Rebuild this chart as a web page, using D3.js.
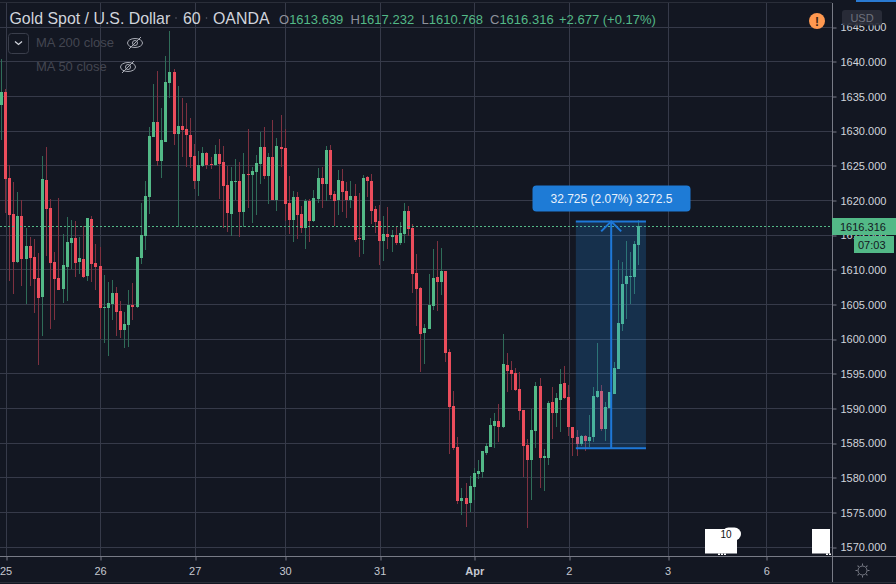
<!DOCTYPE html>
<html>
<head>
<meta charset="utf-8">
<script src="https://cdn.jsdelivr.net/npm/d3@7"></script>
<style>
  html, body { margin: 0; padding: 0; background: #131722; }
  svg { display: block; }
  text { font-family: "Liberation Sans", sans-serif; }
</style>
</head>
<body>
<div id="chart"></div>
<script>
// hourly candles
const opens = [
  1633.82,1635.64,1623.24,1618.05,1611.17,1617.76,1611.56,1613.43,1611.84,1608.82,
  1606.08,1622.95,1618.91,1611.12,1608.82,1607.23,1610.40,1613.86,1614.59,1611.12,
  1611.56,1609.10,1617.33,1610.98,1610.55,1604.49,1604.49,1605.07,1606.65,1604.06,
  1601.32,1602.04,1604.92,1604.63,1611.70,1614.87,1620.50,1629.15,1631.32,1625.69,
  1628.43,1636.94,1638.53,1629.59,1630.74,1630.31,1629.44,1626.41,1622.81,1624.97,
  1626.85,1625.26,1625.12,1626.70,1625.55,1622.24,1618.05,1622.67,1622.81,1618.34,
  1623.82,1623.68,1624.11,1625.27,1627.72,1623.54,1626.28,1620.07,1627.72,1627.57,
  1619.64,1617.19,1620.51,1618.05,1616.03,1619.93,1617.04,1620.22,1623.25,1622.38,
  1627.29,1620.94,1620.07,1622.81,1621.37,1620.07,1620.65,1614.59,1614.30,1623.39,
  1622.81,1618.78,1617.04,1614.16,1615.17,1614.74,1615.03,1613.87,1615.17,1618.49,
  1616.04,1609.55,1607.39,1600.90,1601.47,1604.79,1608.97,1608.25,1609.84,1598.16,
  1590.37,1584.45,1576.66,1577.10,1576.38,1578.68,1580.56,1580.85,1583.59,1584.45,
  1587.48,1588.20,1587.34,1596.28,1595.56,1595.13,1592.82,1589.79,1584.74,1582.58,
  1586.76,1593.25,1582.87,1582.87,1590.94,1589.36,1591.23,1593.68,1591.66,1587.34,
  1585.90,1584.88,1586.03,1585.31,1585.89,1591.66,1592.52,1587.04,1590.07,1592.09,
  1595.70,1602.19,1607.96,1608.97,1608.97,1613.639
];
const highs = [
  1640.36,1636.08,1625.07,1622.66,1621.17,1620.07,1616.03,1614.73,1614.44,1612.42,
  1626.41,1627.71,1620.21,1612.57,1620.36,1615.16,1617.61,1617.18,1617.04,1614.73,
  1616.32,1617.47,1617.76,1613.72,1613.29,1609.25,1608.24,1608.53,1607.52,1605.50,
  1603.91,1607.08,1608.09,1611.84,1619.63,1622.81,1630.60,1636.80,1638.67,1633.34,
  1640.84,1644.44,1638.96,1636.51,1634.78,1634.06,1631.89,1628.14,1627.13,1627.71,
  1626.99,1626.27,1628.00,1628.87,1627.86,1624.98,1624.83,1625.99,1625.55,1626.85,
  1630.31,1624.83,1626.56,1629.88,1630.60,1626.85,1631.61,1629.02,1632.33,1630.31,
  1623.54,1621.37,1621.23,1619.21,1620.22,1620.22,1621.52,1624.69,1624.83,1627.86,
  1628.01,1621.37,1624.40,1624.54,1622.67,1622.81,1622.38,1621.08,1623.68,1623.54,
  1623.82,1619.21,1619.35,1617.77,1619.06,1615.75,1616.18,1616.90,1619.64,1619.21,
  1616.62,1612.29,1607.53,1602.19,1609.41,1613.01,1614.17,1613.16,1609.84,1598.59,
  1592.53,1585.90,1578.54,1579.26,1580.27,1581.42,1582.58,1583.88,1585.03,1588.64,
  1589.36,1590.66,1600.75,1598.01,1596.86,1595.85,1595.27,1589.79,1585.61,1589.93,
  1593.83,1594.41,1584.16,1591.09,1593.11,1592.24,1595.70,1596.14,1593.40,1587.34,
  1586.90,1586.18,1586.18,1589.06,1593.10,1599.45,1593.39,1590.94,1592.38,1596.71,
  1611.42,1611.13,1614.16,1612.57,1614.16,1617.232
];
const lows = [
  1628.72,1618.14,1608.38,1606.56,1610.93,1607.66,1605.02,1607.66,1603.82,1596.32,
  1600.45,1611.99,1601.46,1602.76,1607.08,1605.21,1605.50,1610.11,1608.96,1609.39,
  1608.82,1608.38,1608.24,1607.08,1600.02,1599.44,1597.56,1602.76,1600.45,1600.16,
  1598.72,1598.86,1602.76,1604.49,1610.84,1612.85,1618.05,1629.10,1624.97,1623.24,
  1628.43,1634.73,1628.00,1616.17,1626.27,1624.83,1624.68,1621.65,1620.64,1624.87,
  1624.54,1624.54,1624.97,1620.21,1616.03,1615.46,1614.88,1620.07,1614.74,1616.18,
  1618.92,1616.76,1617.91,1622.38,1623.10,1619.50,1620.07,1618.49,1624.83,1617.04,
  1615.17,1614.02,1614.45,1615.31,1613.01,1614.02,1616.90,1619.64,1618.92,1619.93,
  1620.22,1616.32,1617.91,1618.34,1617.48,1618.92,1614.02,1611.85,1612.28,1620.51,
  1616.61,1615.31,1610.70,1611.27,1613.01,1612.57,1613.58,1613.58,1613.87,1614.88,
  1606.67,1601.91,1595.27,1596.42,1601.47,1604.21,1604.07,1606.38,1596.71,1583.44,
  1584.02,1576.23,1574.64,1572.91,1575.08,1576.81,1579.84,1579.98,1583.30,1584.45,
  1584.31,1585.17,1587.19,1592.39,1592.67,1592.53,1588.35,1580.13,1572.77,1576.81,
  1584.31,1578.54,1578.11,1581.86,1585.61,1587.34,1586.62,1591.38,1586.04,1583.15,
  1583.15,1584.59,1583.87,1584.45,1585.17,1591.51,1586.75,1585.31,1590.07,1592.09,
  1595.70,1601.18,1602.91,1605.07,1606.51,1610.768
];
const closes = [
  1635.64,1623.14,1617.90,1611.17,1617.76,1611.56,1613.43,1611.70,1608.67,1605.93,
  1623.10,1618.77,1610.98,1608.67,1607.08,1610.69,1614.01,1614.59,1610.98,1611.70,
  1608.96,1617.47,1610.84,1610.40,1604.49,1604.63,1605.21,1606.65,1603.91,1601.32,
  1602.18,1604.92,1604.63,1611.84,1615.02,1620.64,1629.30,1631.32,1625.69,1628.72,
  1637.09,1638.53,1629.59,1630.74,1630.16,1629.44,1626.27,1622.81,1625.12,1626.85,
  1625.12,1625.12,1626.70,1625.26,1622.09,1618.20,1622.81,1622.81,1618.34,1623.82,
  1623.68,1624.26,1625.41,1627.72,1623.54,1626.28,1620.07,1627.86,1627.43,1619.50,
  1617.19,1620.51,1617.91,1616.03,1619.93,1617.04,1620.36,1623.25,1622.38,1627.29,
  1620.79,1619.93,1622.96,1621.23,1620.07,1620.65,1614.30,1614.45,1623.25,1622.81,
  1618.49,1616.90,1614.16,1615.17,1614.74,1615.03,1613.87,1615.31,1618.49,1615.89,
  1609.41,1607.24,1600.75,1601.62,1604.94,1608.83,1608.25,1609.84,1598.01,1590.22,
  1584.31,1576.66,1577.10,1576.23,1578.83,1580.70,1580.99,1583.88,1584.60,1587.63,
  1588.20,1587.34,1596.42,1595.41,1594.98,1592.67,1589.65,1584.60,1582.58,1586.90,
  1593.25,1582.87,1583.15,1590.80,1589.36,1591.52,1593.54,1591.52,1587.34,1585.75,
  1584.89,1586.03,1585.31,1585.89,1591.80,1592.52,1587.04,1590.22,1592.38,1595.84,
  1602.33,1607.96,1609.11,1609.11,1613.73,1616.316
];

const priceTicks = [1570,1575,1580,1585,1590,1595,1600,1605,1610,1615,1620,1625,1630,1635,1640,1645];
const timeTickBars = [1,24,47,69,92,115,138,162,186];
const timeTickLabels = ["25","26","27","30","31","Apr","2","3","6"];

const lastPrice = 1616.316;
// price range tool
const rangeFromBar = 139.7, rangeToBar = 156.76, rangeMidBar = 148.3;
const rangeLow = 1584.27, rangeHigh = 1616.995;

const width = 896, height = 584;
const axisX = 832, axisY = 556;
const GREEN = "#53b987", RED = "#eb4d5c";
const GREEN_WICK = "#2f6c58", RED_WICK = "#7e3140";
const GRID = "#363a49", AXIS = "#787b86", LABEL = "#d1d4dc";

const x = d3.scaleLinear().domain([0, 186]).range([1.4, 766.2]);
const y = d3.scaleLinear().domain([1570, 1645]).range([547.3, 27.2]);

const svg = d3.select("#chart").append("svg")
  .attr("width", width).attr("height", height);

svg.append("rect").attr("width", width).attr("height", height).attr("fill", "#131722");

// grid
svg.append("g").selectAll("line").data(priceTicks).enter().append("line")
  .attr("x1", 0).attr("x2", axisX)
  .attr("y1", d => Math.floor(y(d)) + 0.5).attr("y2", d => Math.floor(y(d)) + 0.5)
  .attr("stroke", GRID);
svg.append("g").selectAll("line").data(timeTickBars).enter().append("line")
  .attr("x1", d => Math.round(x(d)) + 0.5).attr("x2", d => Math.round(x(d)) + 0.5)
  .attr("y1", 3).attr("y2", axisY)
  .attr("stroke", GRID);
svg.append("line").attr("x1", 0).attr("x2", width).attr("y1", 2.5).attr("y2", 2.5).attr("stroke", "#2a2e39");
svg.append("line").attr("x1", 0).attr("x2", width).attr("y1", 582.5).attr("y2", 582.5).attr("stroke", "#2a2e39");
svg.append("rect").attr("x", 856).attr("y", 0).attr("width", 40).attr("height", 2).attr("fill", "#2a7ad2");

// candles
const bars = closes.map((c, i) => i);
const candles = svg.append("g").selectAll("g").data(bars).enter().append("g");
candles.append("line")
  .attr("x1", i => Math.floor(x(i)) + 0.5).attr("x2", i => Math.floor(x(i)) + 0.5)
  .attr("y1", i => Math.round(y(highs[i]))).attr("y2", i => Math.round(y(lows[i])))
  .attr("stroke", i => (closes[i] >= opens[i] ? GREEN_WICK : RED_WICK));
candles.append("rect")
  .attr("x", i => Math.floor(x(i)) - 1)
  .attr("width", 3)
  .attr("y", i => Math.round(y(Math.max(opens[i], closes[i]))))
  .attr("height", i => Math.max(1, Math.round(y(Math.min(opens[i], closes[i]))) - Math.round(y(Math.max(opens[i], closes[i])))))
  .attr("fill", i => (closes[i] >= opens[i] ? GREEN : RED));

// last price line
svg.append("line")
  .attr("x1", 0).attr("x2", axisX)
  .attr("y1", Math.round(y(lastPrice)) + 0.5).attr("y2", Math.round(y(lastPrice)) + 0.5)
  .attr("stroke", GREEN).attr("stroke-dasharray", "2 2");

// price range tool
const BLUE = "#1e78d8";
svg.append("rect")
  .attr("x", x(rangeFromBar)).attr("width", x(rangeToBar) - x(rangeFromBar))
  .attr("y", y(rangeHigh)).attr("height", y(rangeLow) - y(rangeHigh))
  .attr("fill", "#2196f3").attr("fill-opacity", 0.2);
[rangeHigh, rangeLow].forEach(p => {
  svg.append("line")
    .attr("x1", x(rangeFromBar)).attr("x2", x(rangeToBar))
    .attr("y1", y(p)).attr("y2", y(p))
    .attr("stroke", BLUE).attr("stroke-width", 2);
});
svg.append("line")
  .attr("x1", x(rangeMidBar)).attr("x2", x(rangeMidBar))
  .attr("y1", y(rangeHigh)).attr("y2", y(rangeLow))
  .attr("stroke", BLUE).attr("stroke-width", 2);
svg.append("path")
  .attr("d", d3.line()([[x(rangeMidBar) - 10, y(rangeHigh) + 10], [x(rangeMidBar), y(rangeHigh)], [x(rangeMidBar) + 10, y(rangeHigh) + 10]]))
  .attr("fill", "none").attr("stroke", BLUE).attr("stroke-width", 2);
svg.append("rect")
  .attr("x", 532.5).attr("y", 185.5).attr("width", 158).attr("height", 26).attr("rx", 4)
  .attr("fill", "#1e7bd6");
svg.append("text")
  .attr("x", 611.5).attr("y", 202.5).attr("text-anchor", "middle")
  .attr("font-size", 12).attr("fill", "#e8f1fb")
  .text("32.725 (2.07%) 3272.5");

// white marks near the time axis
[[705, 32], [812, 18]].forEach(d => {
  svg.append("rect").attr("x", d[0]).attr("y", 529).attr("width", d[1]).attr("height", 24.5).attr("fill", "#fff");
});
svg.append("rect").attr("x", 722).attr("y", 527.5).attr("width", 19).attr("height", 13).attr("rx", 6.5).attr("fill", "#fff");
[718, 721, 724, 826, 829].forEach(px => {
  svg.append("rect").attr("x", px).attr("y", 553.5).attr("width", 2).attr("height", 1.5).attr("fill", "#fff");
});
svg.append("text").attr("x", 726).attr("y", 538).attr("text-anchor", "middle")
  .attr("font-size", 10).attr("fill", "#111").text("10");

// axes
svg.append("rect").attr("x", axisX).attr("y", 0).attr("width", width - axisX).attr("height", axisY).attr("fill", "#131722");
svg.append("rect").attr("x", 856).attr("y", 0).attr("width", 40).attr("height", 2).attr("fill", "#2a7ad2");
const priceAxis = d3.axisRight(y).tickValues(priceTicks).tickFormat(d3.format(".3f")).tickSize(4).tickPadding(4);
const priceG = svg.append("g").attr("transform", `translate(${axisX + 0.5},0)`).call(priceAxis);
priceG.select(".domain").remove();
priceG.selectAll("line").attr("stroke", AXIS)
  .attr("transform", d => `translate(0,${Math.floor(y(d)) + 0.5 - y(d)})`);
priceG.selectAll("text").attr("font-size", 11).attr("fill", LABEL)
  .attr("font-family", "Liberation Sans, sans-serif");

const timeAxis = d3.axisBottom(x).tickValues(timeTickBars)
  .tickFormat((d, i) => timeTickLabels[i]).tickSize(4).tickPadding(7);
const timeG = svg.append("g").attr("transform", `translate(0,${axisY + 0.5})`).call(timeAxis);
timeG.select(".domain").remove();
timeG.selectAll("line").attr("stroke", AXIS)
  .attr("transform", d => `translate(${Math.round(x(d)) + 0.5 - x(d)},0)`);
timeG.selectAll("text").attr("font-size", 11).attr("fill", "#c5c8d0")
  .attr("font-family", "Liberation Sans, sans-serif")
  .attr("font-weight", (d, i) => (timeTickLabels[i] === "Apr" ? "bold" : "normal"));

svg.append("line").attr("x1", 0).attr("x2", width).attr("y1", axisY + 0.5).attr("y2", axisY + 0.5).attr("stroke", AXIS);
svg.append("line").attr("x1", axisX + 0.5).attr("x2", axisX + 0.5).attr("y1", 3).attr("y2", 582).attr("stroke", AXIS);

// last price labels
svg.append("rect").attr("x", axisX).attr("y", 218).attr("width", width - axisX).attr("height", 17).attr("fill", GREEN);
svg.append("text").attr("x", 840).attr("y", 230.5).attr("font-size", 11).attr("fill", "#131722").text(lastPrice.toFixed(3));
svg.append("rect").attr("x", 854).attr("y", 236).attr("width", 40).attr("height", 17).attr("fill", GREEN);
svg.append("text").attr("x", 858).attr("y", 248.5).attr("font-size", 11).attr("fill", "#131722").text("07:03");

// header
const head = (t, px, size, color) => svg.append("text").attr("x", px).attr("y", 24).attr("font-size", size).attr("fill", color).text(t);
head("Gold Spot / U.S. Dollar", 9.5, 15.9, "#d1d4dc");
head("60", 183, 15.9, "#d1d4dc");
head("OANDA", 213, 15.9, "#d1d4dc");
svg.append("circle").attr("cx", 176).attr("cy", 18).attr("r", 0.8).attr("fill", "#5d606b");
svg.append("circle").attr("cx", 206.5).attr("cy", 18).attr("r", 0.8).attr("fill", "#5d606b");

const ohlcItems = [["O", "1613.639", 279], ["H", "1617.232", 350.5], ["L", "1610.768", 421.5], ["C", "1616.316", 490]];
ohlcItems.forEach(d => {
  const t = svg.append("text").attr("x", d[2]).attr("y", 24).attr("font-size", 13);
  t.append("tspan").attr("fill", "#8f929c").text(d[0]);
  t.append("tspan").attr("fill", GREEN).text(d[1]);
});
head("+2.677 (+0.17%)", 559, 13, GREEN);

// study legend
svg.append("rect").attr("x", 8.5).attr("y", 33.5).attr("width", 20).attr("height", 20).attr("rx", 3)
  .attr("fill", "none").attr("stroke", "#3a3e4b");
svg.append("path").attr("d", "M15 41.5l3.5 3 3.5-3").attr("fill", "none").attr("stroke", "#d1d4dc").attr("stroke-width", 1.3);
svg.append("text").attr("x", 36).attr("y", 47).attr("font-size", 13).attr("fill", "#434651").text("MA 200 close");
svg.append("text").attr("x", 36).attr("y", 71).attr("font-size", 13).attr("fill", "#434651").text("MA 50 close");
[[135, 43], [128, 67]].forEach(d => {
  const g = svg.append("g").attr("transform", `translate(${d[0]},${d[1]})`)
    .attr("fill", "none").attr("stroke", "#a8abb4").attr("stroke-width", 1);
  g.append("ellipse").attr("rx", 7.5).attr("ry", 4.5);
  g.append("circle").attr("r", 2.5);
  g.append("line").attr("x1", -6).attr("y1", 6).attr("x2", 6).attr("y2", -6);
});

// alert badge and currency
svg.append("circle").attr("cx", 817).attr("cy", 21).attr("r", 8).attr("fill", "#ff9850");
svg.append("text").attr("x", 817).attr("y", 25.5).attr("text-anchor", "middle").attr("font-size", 12)
  .attr("font-weight", "bold").attr("fill", "#3a2413").text("!");
svg.append("rect").attr("x", 842).attr("y", 10).attr("width", 40).attr("height", 15.5).attr("rx", 3)
  .attr("fill", "#2a2e39").attr("fill-opacity", 0.92);
svg.append("text").attr("x", 862).attr("y", 22).attr("text-anchor", "middle").attr("font-size", 11)
  .attr("fill", "#6f727d").text("USD");

// settings gear
const gear = svg.append("g").attr("transform", "translate(862.5,570.5)").attr("stroke", AXIS).attr("fill", "none");
gear.append("circle").attr("r", 4.5);
[0,45,90,135,180,225,270,315].forEach(a => {
  gear.append("line").attr("x1", 5).attr("x2", 7).attr("transform", `rotate(${a})`);
});
</script>
</body>
</html>
